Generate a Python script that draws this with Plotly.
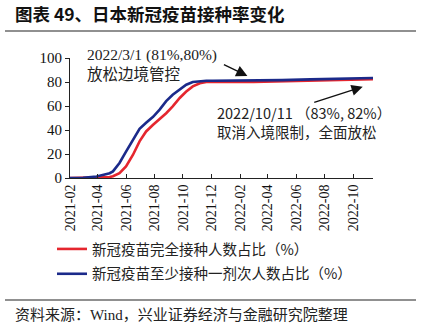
import plotly.graph_objects as go

# Japan COVID-19 vaccination share of population (%)
dates = ["2021-02-01", "2021-03-01", "2021-03-30", "2021-04-27", "2021-05-04",
         "2021-05-18", "2021-06-01", "2021-06-16", "2021-06-30", "2021-07-14",
         "2021-07-29", "2021-08-12", "2021-08-26", "2021-09-09", "2021-09-24",
         "2021-10-08", "2021-10-22", "2021-11-06", "2021-11-20", "2021-12-04",
         "2022-01-01", "2022-03-01", "2022-05-01", "2022-07-01", "2022-09-01",
         "2022-10-11", "2022-11-12"]
fully_vaccinated = [0.0, 0.1, 0.3, 0.8, 1.5,
                    4.0, 9.7, 19.4, 30.5, 38.8,
                    44.4, 49.0, 54.0, 59.7, 66.7,
                    72.0, 76.3, 79.0, 80.0, 80.3,
                    80.0, 80.0, 80.6, 81.2, 81.7,
                    82.0, 82.3]
at_least_one_dose = [0.0, 0.2, 1.3, 4.0, 5.5,
                     12.5, 22.0, 32.0, 41.0, 46.0,
                     51.0, 57.0, 64.0, 69.4, 73.6,
                     77.7, 80.0, 80.8, 81.0, 81.0,
                     81.0, 81.0, 81.6, 82.2, 82.7,
                     83.0, 83.3]

series_names = ["新冠疫苗完全接种人数占比（%）", "新冠疫苗至少接种一剂次人数占比（%）"]
series_colors = ["#E5262E", "#1B2A8A"]

title_text = "图表 49、日本新冠疫苗接种率变化"
source_text = "资料来源：Wind，兴业证券经济与金融研究院整理"
note1_lines = ["2022/3/1 (81%,80%)", "放松边境管控"]
note2_lines = ["2022/10/11 （83%, 82%）", "取消入境限制，全面放松"]

W, H = 426, 330
L, R, T, B = 70, 53, 58, 152
PW, PH = W - L - R, H - T - B


def px(x):
    return (x - L) / PW


def py(y):
    return (H - B - y) / PH


SERIF = "Liberation Serif, Noto Sans CJK SC"
SANS = "Noto Sans CJK SC, Liberation Sans"

fig = go.Figure()
for i, (name, vals, color) in enumerate(zip(series_names, [fully_vaccinated, at_least_one_dose], series_colors)):
    fig.add_trace(go.Scatter(x=dates, y=vals, mode="lines", name=name,
                             legendgroup=f"g{i}",
                             line=dict(color=color, width=2.6)))

fig.update_layout(
    width=W, height=H,
    margin=dict(l=L, r=R, t=T, b=B),
    paper_bgcolor="white", plot_bgcolor="white",
    font=dict(family=SERIF, size=14, color="#111111"),
    showlegend=True,
    legend=dict(x=px(52), y=py(233), xanchor="left", yanchor="top",
                font=dict(family=SANS, size=14.5, color="#222222"),
                bgcolor="rgba(0,0,0,0)", tracegroupgap=3, itemwidth=30,
                traceorder="grouped"),
    xaxis=dict(type="date", range=["2021-02-01", "2022-11-12"],
               tick0="2021-02-01", dtick="M2", tickformat="%Y-%m",
               tickangle=-90, ticks="inside", ticklen=4, tickcolor="#222",
               showline=True, linecolor="#222", linewidth=1,
               showgrid=False, zeroline=False,
               tickfont=dict(family=SERIF, size=14)),
    yaxis=dict(range=[0, 100], dtick=20, ticks="outside", ticklen=4,
               tickcolor="#222", showline=True, linecolor="#222", linewidth=1,
               showgrid=False, zeroline=False,
               tickfont=dict(family=SERIF, size=15)),
)

# Title, rules and source line
fig.add_annotation(text="<b>" + title_text + "</b>", xref="paper", yref="paper",
                   x=px(13), y=py(13), xanchor="left", yanchor="middle",
                   showarrow=False, font=dict(family=SANS, size=17.5, color="#111"))
fig.add_shape(type="line", xref="paper", yref="paper",
              x0=px(5), x1=px(416), y0=py(31), y1=py(31),
              line=dict(color="#222", width=1.2))
fig.add_shape(type="line", xref="paper", yref="paper",
              x0=px(5), x1=px(416), y0=py(300), y1=py(300),
              line=dict(color="#222", width=1.2))
fig.add_annotation(text=source_text, xref="paper", yref="paper",
                   x=px(13), y=py(314), xanchor="left", yanchor="middle",
                   showarrow=False, font=dict(family=SERIF, size=15, color="#222"))

# Event notes, one annotation per line
for text, yc in [(note1_lines[0], 55), (note1_lines[1], 74)]:
    fig.add_annotation(text=text, xref="paper", yref="paper",
                       x=px(85), y=py(yc), xanchor="left", yanchor="middle",
                       showarrow=False, font=dict(family=SERIF, size=15.5, color="#222"))
for text, yc in [(note2_lines[0], 112), (note2_lines[1], 131)]:
    fig.add_annotation(text=text, xref="paper", yref="paper",
                       x=px(215), y=py(yc), xanchor="left", yanchor="middle",
                       showarrow=False, font=dict(family=SANS, size=14.5, color="#222"))

# Arrows toward the curves
fig.add_annotation(x="2022-02-16", y=85, xref="x", yref="y", text="",
                   showarrow=True, axref="pixel", ayref="pixel", ax=-25, ay=-12,
                   arrowhead=2, arrowsize=1.6, arrowwidth=1.4, arrowcolor="#111")
fig.add_annotation(x="2022-10-21", y=76, xref="x", yref="y", text="",
                   showarrow=True, axref="pixel", ayref="pixel", ax=-50, ay=16,
                   arrowhead=2, arrowsize=1.6, arrowwidth=1.4, arrowcolor="#111")

fig.write_html("out.html")
